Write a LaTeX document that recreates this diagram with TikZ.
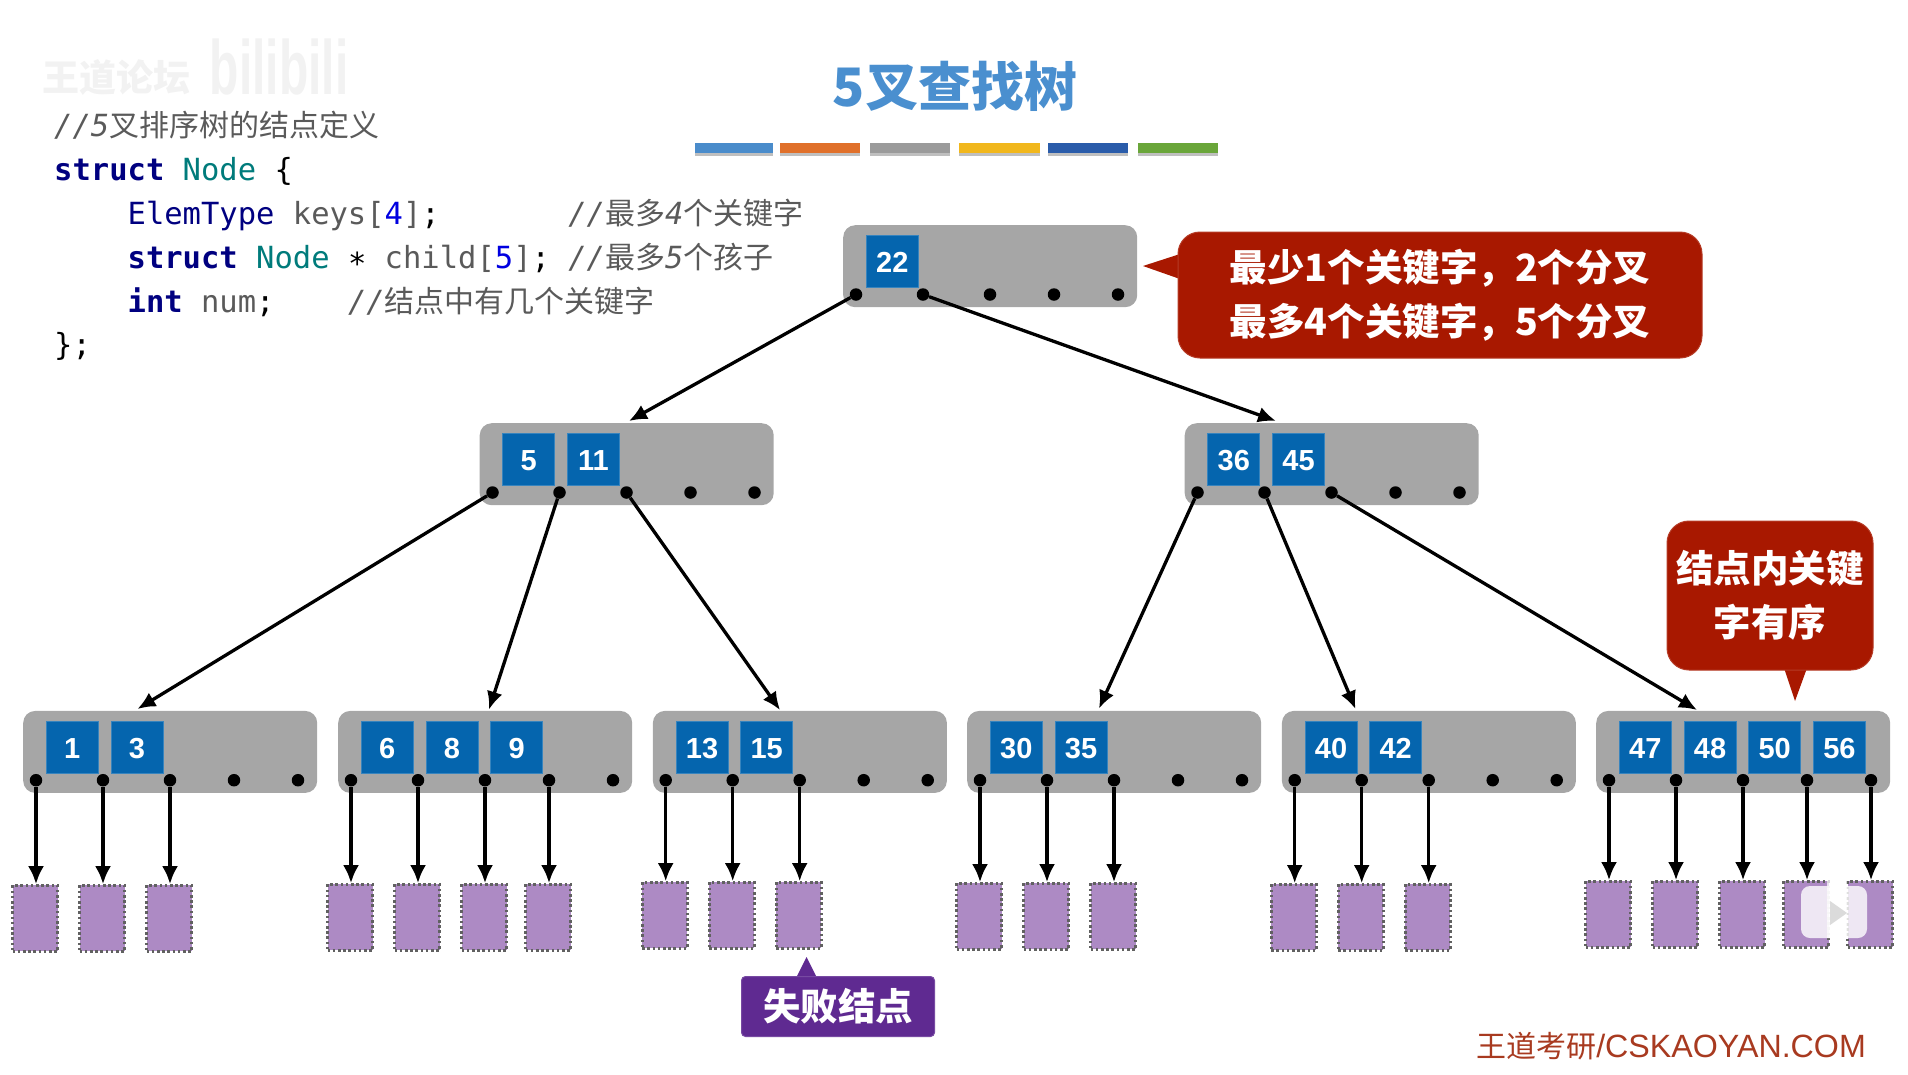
\documentclass[tikz,border=0pt]{standalone}
\usepackage{fontspec}
\setmainfont{Liberation Sans}
\newfontfamily\cjkfont{Noto Sans CJK SC}
\newfontfamily\codefont{DejaVu Sans Mono}
\usetikzlibrary{arrows.meta,positioning}

\definecolor{nodegray}{HTML}{A6A6A6}
\definecolor{keyblue}{HTML}{0565AE}
\definecolor{failpurple}{HTML}{AD8AC4}
\definecolor{calloutred}{HTML}{A81800}
\definecolor{calloutpurple}{HTML}{5F2A91}
\definecolor{titleblue}{HTML}{4A8FCF}
\definecolor{kwnavy}{HTML}{000080}
\definecolor{typeteal}{HTML}{007B7B}
\definecolor{codegray}{HTML}{5A5A5A}
\definecolor{numblue}{HTML}{0000E0}
\definecolor{footred}{HTML}{A83A20}

\newcommand{\kw}[1]{\textcolor{kwnavy}{\bfseries #1}}
\newcommand{\ty}[1]{\textcolor{typeteal}{#1}}
\newcommand{\cg}[1]{\textcolor{codegray}{#1}}
\newcommand{\nb}[1]{\textcolor{numblue}{#1}}
\newcommand{\cm}[2]{\textcolor{codegray}{\itshape #1\upshape\cjkfont\fontsize{30}{30}\selectfont #2}}

\tikzset{
  treenode/.style={fill=nodegray, rounded corners=12pt, minimum width=294pt, minimum height=82pt, inner sep=0pt, anchor=north west},
  keybox/.style={fill=keyblue, draw=keyblue!80!white, line width=0.8pt, minimum size=52pt, inner sep=0pt, text=white, text height=22.5pt, text depth=0pt, font=\fontsize{29}{29}\selectfont\bfseries},
  dotpt/.style={circle, fill=black, minimum size=12.5pt, inner sep=0pt},
  failbox/.style={fill=failpurple, draw=black!62, line width=2.6pt, dash pattern=on 2.6pt off 2.6pt, minimum width=45pt, minimum height=66pt, inner sep=0pt},
  treearrow/.style={line width=3.3pt, -{Latex[length=18pt,width=16pt]}},
  codeline/.style={anchor=base west, inner sep=0pt, font=\codefont\fontsize{30.5}{30.5}\selectfont},
  redbox/.style={fill=calloutred, draw=calloutred!85!white, line width=1pt, rounded corners=22pt, inner sep=0pt, text=white, align=center, font=\cjkfont\bfseries\fontsize{37.5}{54}\selectfont}
}

\begin{document}
\begin{tikzpicture}[x=1pt,y=-1pt]
\useasboundingbox (0,0) rectangle (1908,1074);

% Watermark
\node[text=black!5, font=\cjkfont\bfseries\fontsize{37}{37}\selectfont] (markwd) at (116,77) {王道论坛};
\node[text=black!5, font=\bfseries\fontsize{48}{48}\selectfont] (markbl) at (279,67) {\scalebox{1}[1.6]{bilibili}};

% Title
\node[text=titleblue, font=\cjkfont\bfseries\fontsize{53}{53}\selectfont] (title) at (955,86) {5叉查找树};

% Colour bar
\foreach \xa/\xb/\col in {695/773/4A8CCB,780/860/E0702A,870/950/9B9B9B,959/1040/F1B71C,1048/1128/2A5CAA,1138/1218/6AA63A} {
  \definecolor{barcol}{HTML}{\col}
  \fill[black!25] (\xa,146) rectangle (\xb,155.5);
  \fill[barcol] (\xa,143) rectangle (\xb,153);
}

% Code
\node[codeline] (code1) at (54,136.5) {\cm{//5}{叉排序树的结点定义}};
\node[codeline] (code2) at (54,180.3) {\kw{struct} \ty{Node} \{};
\node[codeline] (code3) at (54,224) {~~~~\textcolor{kwnavy}{ElemType} \cg{keys[}\nb{4}\cg{]};~~~~~~~\cm{//}{最多}\cm{4}{个关键字}};
\node[codeline] (code4) at (54,268) {~~~~\kw{struct} \ty{Node} ∗ \cg{child[}\nb{5}\cg{]}; \cm{//}{最多}\cm{5}{个孩子}};
\node[codeline] (code5) at (54,312) {~~~~\kw{int} \cg{num};~~~~\cm{//}{结点中有几个关键字}};
\node[codeline] (code6) at (54,355.5) {\};};

% Tree nodes with keys and pointer dots
\foreach \nm/\lx/\ty/\klist in {r/843/225/{22},a/479.5/423/{5,11},b/1184.5/423/{36,45},
    l1/23/710.7/{1,3},l2/338/710.7/{6,8,9},l3/652.7/710.7/{13,15},
    l4/967/710.7/{30,35},l5/1281.7/710.7/{40,42},l6/1596/710.7/{47,48,50,56}} {
  \node[treenode] (\nm) at (\lx,\ty) {};
  \foreach \k [count=\i from 0] in \klist
    \node[keybox] (\nm-k\i) at (\lx+49.3+64.7*\i,\ty+36.5) {\k};
  \foreach \off [count=\i] in {13,80,147,211,275}
    \node[dotpt] (\nm-d\i) at (\lx+\off,\ty+69.5) {};
}

% Arrow ends on the upper nodes
\foreach \tp/\tx/\tpy in {ta/629/421,tb/1276/421,t1/137.5/709,t2/489/709.5,t3/780/710,t4/1099/708.5,t5/1355.5/709,t6/1697/710}
  \coordinate (\tp) at (\tx,\tpy);

% Connecting Lines
\foreach \from/\to in {r-d1/ta,r-d2/tb,a-d1/t1,a-d2/t2,a-d3/t3,b-d1/t4,b-d2/t5,b-d3/t6}
  \draw[treearrow] (\from) -- (\to);

% Failure nodes
\foreach \nm/\nf/\gap in {l1/3/97.5,l2/4/96.5,l3/3/94.5,l4/3/95.5,l5/3/96.5,l6/5/93.5} {
  \foreach \i in {1,...,\nf} {
    \node[failbox, below=\gap pt of \nm-d\i, xshift=-1pt] (\nm-f\i) {};
    \draw[treearrow] (\nm-d\i) -- (\nm-d\i |- \nm-f\i.north);
  }
}

% Callouts
\fill[calloutred] (1143,266) -- (1180,254) -- (1180,279) -- cycle;
\node[redbox, minimum width=524pt, minimum height=126pt] (tipa) at (1440,295) {最少1个关键字，2个分叉\\最多4个关键字，5个分叉};
\fill[calloutred] (1795,701) -- (1784,668) -- (1807,668) -- cycle;
\node[redbox, minimum width=206pt, minimum height=149pt] (tipb) at (1770,595.5) {结点内关键\\字有序};
\fill[calloutpurple] (806.5,957) -- (796,978) -- (817,978) -- cycle;
\node[fill=calloutpurple, draw=calloutpurple!85!white, line width=1pt, rounded corners=4pt, minimum width=193pt, minimum height=60pt, inner sep=0pt, text=white, font=\cjkfont\bfseries\fontsize{37.5}{37.5}\selectfont] (tipc) at (838,1006.5) {失败结点};

% Footer
\node[text=footred, anchor=east, inner sep=0pt, font=\fontsize{32.2}{32.2}\selectfont] (foot) at (1866,1046.5) {{\cjkfont\fontsize{30}{30}\selectfont 王道考研}/CSKAOYAN.COM};

% Player mark
\fill[white, opacity=0.8, rounded corners=9pt] (1801,886) rectangle (1867,938);
\fill[white, opacity=0.75] (1827,876) rectangle (1847,938);
\fill[black!14] (1830,901) -- (1847,913) -- (1830,925) -- cycle;

\end{tikzpicture}
\end{document}
